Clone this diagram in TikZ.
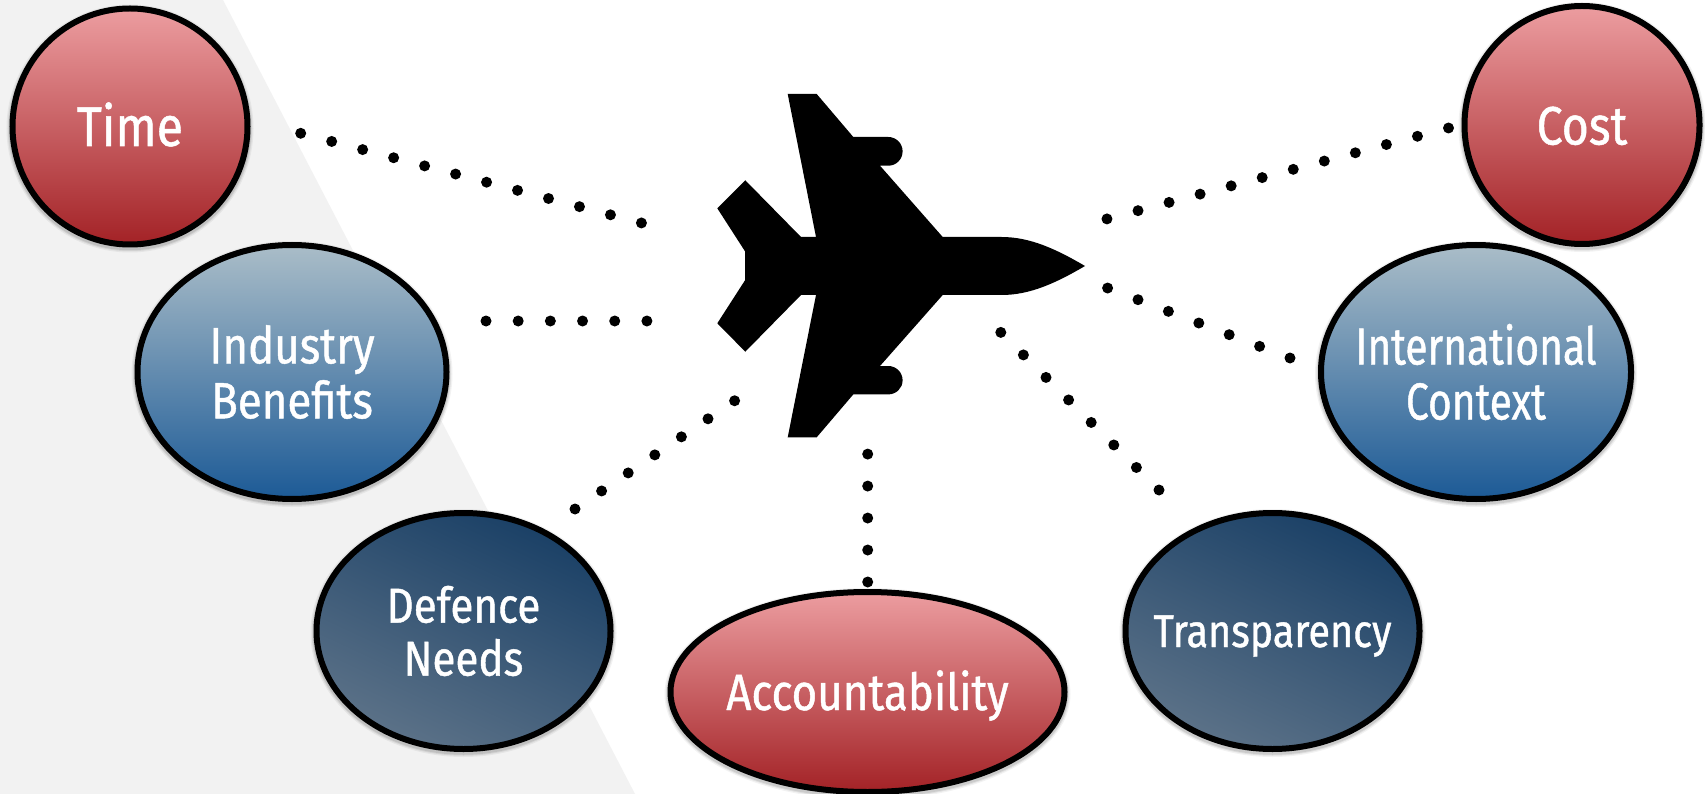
\documentclass[tikz,border=0pt]{standalone}
\usepackage{fontspec}
\setmainfont[FakeStretch=0.86,FakeBold=0.9]{Fira Sans}
\usetikzlibrary{shapes.geometric}
\definecolor{redtop}{HTML}{EC9DA0}
\definecolor{redbot}{HTML}{A32226}
\definecolor{bluetop}{HTML}{AABDC8}
\definecolor{bluebot}{HTML}{1C5A96}
\definecolor{navydark}{HTML}{1A4066}
\definecolor{navylight}{HTML}{5C7288}
\newcommand{\narrowed}[1]{\scalebox{0.91}[1]{#1}}
\newcommand{\setdrop}[2]{\raisebox{-#1pt}[0pt][0pt]{#2}}
\tikzset{
  softshadow/.style={
    preaction={draw=black,draw opacity=.05,line width=12pt,transform canvas={yshift=-2pt}},
    preaction={draw=black,draw opacity=.07,line width=9.5pt,transform canvas={yshift=-2pt}},
    preaction={draw=black,draw opacity=.09,line width=7.5pt,transform canvas={yshift=-2pt}}},
  bubble/.style={ellipse,draw=black,line width=6pt,inner sep=-70pt,outer sep=0pt,
    text=white,align=center,softshadow},
  redbubble/.style={bubble,top color=redtop,bottom color=redbot},
  bluebubble/.style={bubble,top color=bluetop,bottom color=bluebot},
  navybubble/.style={bubble,top color=navydark,bottom color=navylight,shading angle=-25},
  fsize/.style={font=\fontsize{#1}{55}\selectfont},
  fsizetwo/.style={font=\fontsize{#1}{53}\selectfont},
  dotline/.style={line width=11pt,line cap=round,dash pattern=on 0pt off #1pt},
}
\begin{document}
\begin{tikzpicture}[x=1pt,y=-1pt]
\useasboundingbox (0,0) rectangle (1705,794);
\fill[white] (0,0) rectangle (1705,794);
\fill[black!5] (0,0) -- (223,0) -- (635,794) -- (0,794) -- cycle;
% aircraft
\fill[black] (787.7,94) -- (816.7,94) -- (853.3,137) -- (888.3,137)
  .. controls (896.2,137) and (902.6,143.4) .. (902.6,151.3)
  .. controls (902.6,159.3) and (896.2,165.7) .. (888.3,165.7)
  -- (880,165.7) -- (942.7,237) -- (1001.7,237)
  .. controls (1030,237) and (1056,249) .. (1085,266)
  .. controls (1056,283) and (1030,295) .. (1001.7,295)
  -- (942.7,295) -- (880,366) -- (888.3,366)
  .. controls (896.2,366) and (902.6,372.4) .. (902.6,380.3)
  .. controls (902.6,388.2) and (896.2,394.4) .. (888.3,394.4)
  -- (853.3,394.4) -- (816.7,437.3) -- (787.7,437.3) -- (816,295) -- (801,295)
  -- (745.3,351.7) -- (717.3,323.3) -- (745,280.3) -- (745,251.3) -- (717.3,208.3)
  -- (745.3,180.3) -- (801,237) -- (816,237) -- cycle;
% connector ends
\coordinate (timeA) at (300.7,133.3);   \coordinate (timeB) at (641.6,223);
\coordinate (indA)  at (486,321);       \coordinate (indB)  at (647,321);
\coordinate (defA)  at (575,509);       \coordinate (defB)  at (734.7,400.7);
\coordinate (accA)  at (867.7,582);     \coordinate (accB)  at (867.7,454);
\coordinate (traA)  at (1159,490);      \coordinate (traB)  at (1000.7,332.3);
\coordinate (intA)  at (1290,358);      \coordinate (intB)  at (1107.5,288);
\coordinate (cosA)  at (1448.5,128);    \coordinate (cosB)  at (1106.7,219);
\draw[dotline=32.03] (timeA) -- (timeB);
\draw[dotline=32.18] (indA) -- (indB);
\draw[dotline=32.14] (defA) -- (defB);
\draw[dotline=31.98] (accA) -- (accB);
\draw[dotline=31.9]  (traA) -- (traB);
\draw[dotline=32.56] (intA) -- (intB);
\draw[dotline=32.13] (cosA) -- (cosB);
% bubbles
\node[redbubble,fsize=56,minimum width=235pt,minimum height=236pt] (time) at (130,126.5) {\setdrop{19.5}{Time}};
\node[bluebubble,fsize=51,minimum width=309pt,minimum height=254pt] (industry) at (292,372) {Industry\\Benefits};
\node[navybubble,fsizetwo=49,minimum width=294pt,minimum height=236pt] (defence) at (463.5,631) {Defence\\Needs};
\node[redbubble,fsize=51,minimum width=394pt,minimum height=200pt] (account) at (867.5,692) {\setdrop{18}{Accountability}};
\node[navybubble,fsize=46,minimum width=294pt,minimum height=236pt] (transp) at (1272.5,631) {\setdrop{16}{Transparency}};
\node[bluebubble,fsize=52,minimum width=310pt,minimum height=254pt] (intl) at (1476,372) {\narrowed{International}\\\narrowed{Context}};
\node[redbubble,fsize=54,minimum width=235pt,minimum height=238pt] (cost) at (1582,125) {\setdrop{19.5}{Cost}};
\end{tikzpicture}
\end{document}
